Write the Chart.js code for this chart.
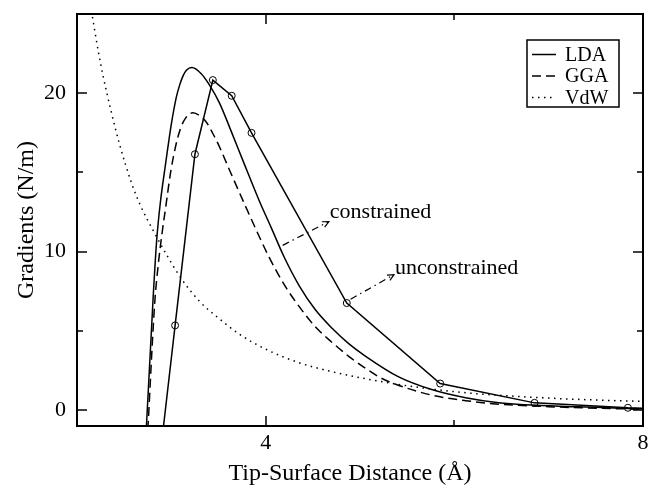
<!DOCTYPE html>
<html><head><meta charset="utf-8">
<script src="https://cdn.jsdelivr.net/npm/chart.js@4.4.1/dist/chart.umd.min.js"></script>
<style>html,body{margin:0;padding:0;background:#fff;overflow:hidden}canvas{display:block}</style>
</head><body>
<canvas id="c" width="648" height="489"></canvas>
<script>
// ---- data ----
const ldaX = [2.72, 2.736, 2.806, 2.845, 2.887, 2.93, 2.964, 3.0, 3.053, 3.088, 3.123, 3.162, 3.218, 3.317, 3.405, 3.511, 3.634, 3.757, 3.933, 4.06, 4.197, 4.356, 4.525, 4.707, 4.88, 5.06, 5.41, 5.76, 6.12, 6.47, 7.31, 8.0];
const ldaY = [-3, -1, 6.97, 10.75, 13.27, 15.16, 16.61, 18.05, 19.75, 20.51, 21.08, 21.46, 21.62, 21.23, 20.51, 19.38, 17.61, 15.78, 13.2, 11.5, 9.65, 7.85, 6.35, 5.15, 4.2, 3.4, 2.1, 1.3, 0.78, 0.47, 0.21, 0.09];
const ggaX = [2.735, 2.753, 2.824, 2.861, 2.898, 2.948, 2.993, 3.046, 3.099, 3.151, 3.229, 3.299, 3.37, 3.437, 3.511, 3.616, 3.775, 3.933, 4.039, 4.197, 4.356, 4.525, 4.707, 4.884, 5.06, 5.232, 5.412, 5.76, 6.12, 6.47, 7.0, 8.0];
const ggaY = [-3, -1, 6.78, 9.17, 11.0, 13.14, 15.03, 16.67, 17.8, 18.43, 18.77, 18.59, 18.18, 17.49, 16.61, 15.16, 13.02, 10.94, 9.62, 7.92, 6.53, 5.27, 4.26, 3.38, 2.63, 2.0, 1.56, 0.95, 0.6, 0.38, 0.22, 0.05];
const vdwX = [2.12, 2.17, 2.23, 2.28, 2.36, 2.45, 2.58, 2.67, 2.82, 3.09, 3.30, 3.51, 3.72, 4.0, 4.36, 4.71, 5.06, 5.41, 5.76, 6.12, 6.47, 7.0, 7.5, 8.0];
const vdwY = [26.3, 24.6, 22.5, 21.0, 18.9, 16.8, 14.3, 12.95, 11.2, 8.44, 6.86, 5.76, 4.8, 3.85, 2.98, 2.42, 1.98, 1.62, 1.33, 1.1, 0.94, 0.76, 0.64, 0.55];
const unconX = [2.84, 3.04, 3.25, 3.44, 3.64, 3.85, 4.86, 5.85, 6.85, 7.84, 8.84];
const unconY = [-5.0, 5.35, 16.15, 20.83, 19.84, 17.5, 6.76, 1.68, 0.46, 0.15, 0.0];
const arrowConX = [4.18, 4.67];
const arrowConY = [10.4, 11.9];
const arrowUnconX = [4.9, 5.36];
const arrowUnconY = [7.0, 8.55];
const seriesLabels = ['LDA', 'GGA', 'VdW'];
const annotationTexts = ['constrained', 'unconstrained'];
const annotationAt = [[4.68, 12.13], [5.37, 8.61]];
const xTitle = 'Tip-Surface Distance (Å)';
const yTitle = 'Gradients (N/m)';
const xTickValues = [2, 4, 6, 8];
const xLabeled = [4, 8];
const yTickValues = [0, 5, 10, 15, 20, 25];
const yLabeled = [0, 10, 20];

const pts = (xs, ys) => xs.map((v, i) => ({x: v, y: ys[i]}));
const SERIF = '"Liberation Serif", "Times New Roman", serif';

const zeroPad = s => { s.paddingLeft = 0; s.paddingRight = 0; s.paddingTop = 0; s.paddingBottom = 0; };

const framePlugin = {
  id: 'frame',
  afterDatasetsDraw(chart) {
    const {ctx, scales: {x, y}} = chart;
    ctx.save();
    ctx.strokeStyle = '#000';
    ctx.fillStyle = '#000';
    [[arrowConX, arrowConY], [arrowUnconX, arrowUnconY]].forEach(([xs, ys]) => {
      const x0 = x.getPixelForValue(xs[0]), y0 = y.getPixelForValue(ys[0]);
      const x1 = x.getPixelForValue(xs[1]), y1 = y.getPixelForValue(ys[1]);
      const ang = Math.atan2(y1 - y0, x1 - x0);
      const L = 7, w = 0.45;
      ctx.lineWidth = 1.2;
      ctx.setLineDash([]);
      ctx.beginPath();
      ctx.moveTo(x1 - L * Math.cos(ang - w), y1 - L * Math.sin(ang - w));
      ctx.lineTo(x1, y1);
      ctx.lineTo(x1 - L * Math.cos(ang + w), y1 - L * Math.sin(ang + w));
      ctx.stroke();
    });
    ctx.font = '22px ' + SERIF;
    ctx.textAlign = 'left';
    ctx.textBaseline = 'alphabetic';
    annotationTexts.forEach((t, i) => {
      ctx.fillText(t, x.getPixelForValue(annotationAt[i][0]), y.getPixelForValue(annotationAt[i][1]));
    });
    ctx.restore();
  },
  afterDraw(chart) {
    const {ctx, chartArea: a, scales: {x, y}} = chart;
    ctx.save();
    ctx.strokeStyle = '#000';
    ctx.setLineDash([]);
    ctx.lineWidth = 2;
    ctx.strokeRect(a.left, a.top, a.right - a.left, a.bottom - a.top);
    ctx.lineWidth = 1.5;
    const seg = (x0, y0, x1, y1) => { ctx.beginPath(); ctx.moveTo(x0, y0); ctx.lineTo(x1, y1); ctx.stroke(); };
    x.ticks.forEach(t => {
      const px = Math.round(x.getPixelForValue(t.value));
      const len = xLabeled.includes(t.value) ? 10 : 6;
      seg(px, a.bottom, px, a.bottom - len);
      seg(px, a.top, px, a.top + len);
    });
    y.ticks.forEach(t => {
      const py = Math.round(y.getPixelForValue(t.value));
      const len = yLabeled.includes(t.value) ? 10 : 6;
      seg(a.left, py, a.left + len, py);
      seg(a.right, py, a.right - len, py);
    });
    // x axis title
    ctx.fillStyle = '#000';
    ctx.font = '24px ' + SERIF;
    ctx.textAlign = 'center';
    ctx.textBaseline = 'middle';
    ctx.fillText(xTitle, (a.left + a.right) / 2 - 10, x.bottom - 15);
    // legend
    const bx = 527, by = 40, bw = 92, bh = 67;
    ctx.fillStyle = '#fff';
    ctx.fillRect(bx, by, bw, bh);
    ctx.lineWidth = 1.5;
    ctx.strokeRect(bx, by, bw, bh);
    ctx.font = '20px ' + SERIF;
    ctx.fillStyle = '#000';
    ctx.textAlign = 'left';
    const items = chart.data.datasets.filter(d => seriesLabels.includes(d.label));
    items.forEach((d, i) => {
      const yy = by + 14.5 + i * 21.5;
      ctx.lineWidth = d.borderWidth;
      ctx.setLineDash(d.borderDash || []);
      seg(532, yy, 556, yy);
      ctx.setLineDash([]);
      ctx.fillText(d.label, 565, yy + 1);
    });
    ctx.restore();
  }
};

const lineBase = {borderColor: '#000', backgroundColor: 'rgba(0,0,0,0)', pointRadius: 0, borderWidth: 1.5, fill: false};

new Chart(document.getElementById('c'), {
  type: 'line',
  data: {
    datasets: [
      {...lineBase, label: seriesLabels[0], data: pts(ldaX, ldaY), cubicInterpolationMode: 'monotone'},
      {...lineBase, label: seriesLabels[1], data: pts(ggaX, ggaY), cubicInterpolationMode: 'monotone', borderDash: [9, 5]},
      {...lineBase, label: seriesLabels[2], data: pts(vdwX, vdwY), cubicInterpolationMode: 'monotone', borderDash: [1.5, 4.5]},
      {...lineBase, label: 'LDA unconstrained', data: pts(unconX, unconY), tension: 0, pointRadius: 3.5, pointBorderWidth: 1, pointBorderColor: '#000', pointBackgroundColor: 'rgba(0,0,0,0)', pointStyle: 'circle'},
      {...lineBase, label: 'arrow constrained', data: pts(arrowConX, arrowConY), tension: 0, borderWidth: 1.2, borderDash: [7, 4, 1.5, 4]},
      {...lineBase, label: 'arrow unconstrained', data: pts(arrowUnconX, arrowUnconY), tension: 0, borderWidth: 1.2, borderDash: [7, 4, 1.5, 4]}
    ]
  },
  options: {
    responsive: false,
    animation: false,
    devicePixelRatio: 1,
    layout: {padding: {left: 0, top: 14, right: 3, bottom: 0}},
    plugins: {legend: {display: false}, tooltip: {enabled: false}},
    scales: {
      x: {
        type: 'linear', min: 2, max: 8,
        afterBuildTicks: s => { s.ticks = xTickValues.map(v => ({value: v})); },
        afterFit: s => { s.height = 63; zeroPad(s); },
        grid: {display: false, drawTicks: false},
        border: {display: false},
        ticks: {autoSkip: false, maxRotation: 0, padding: 4, color: '#000', font: {family: SERIF, size: 22},
          callback: v => xLabeled.includes(v) ? String(v) : ''},
        title: {display: false}
      },
      y: {
        type: 'linear', min: -1, max: 25,
        afterBuildTicks: s => { s.ticks = yTickValues.map(v => ({value: v})); },
        afterFit: s => { s.width = 77; zeroPad(s); },
        grid: {display: false, drawTicks: false},
        border: {display: false},
        ticks: {autoSkip: false, padding: 11, color: '#000', font: {family: SERIF, size: 22},
          callback: v => yLabeled.includes(v) ? String(v) : ''},
        title: {display: true, text: yTitle, color: '#000', font: {family: SERIF, size: 24}, padding: {top: 12, bottom: 0}}
      }
    }
  },
  plugins: [framePlugin]
});
</script>
</body></html>
